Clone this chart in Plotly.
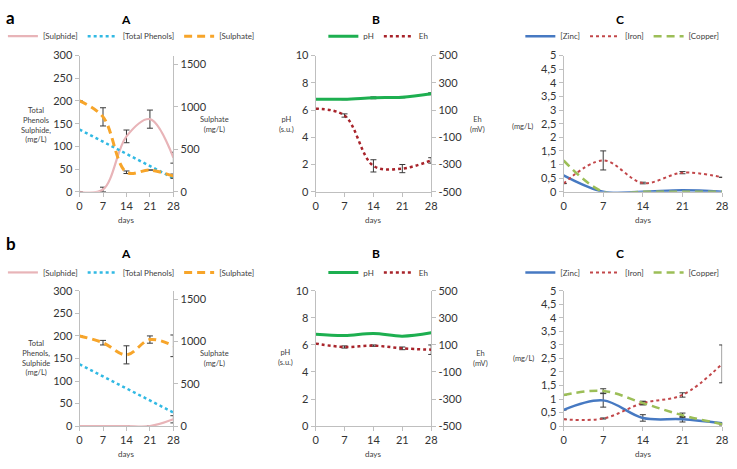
import plotly.graph_objects as go

W, H = 737, 469
days = [0, 7, 14, 21, 28]
phen_days = [0, 28]

# ---- row a ----
a_sulphide = [0, 5, 122, 160, 75]
a_sulphide_err = [0, 5, 14, 20, 12]
a_phenols = [137, 30]
a_sulphate = [1067, 880, 229, 255, 183]
a_sulphate_err = [0, 107, 15, 0, 25]
a_ph = [6.8, 6.8, 6.9, 6.95, 7.2]
a_ph_err = [0, 0.04, 0.07, 0.05, 0.07]
a_eh = [110, 60, -310, -330, -270]
a_eh_err = [0, 12, 45, 30, 20]
a_zinc = [0.6, 0.0, 0.0, 0.05, 0.0]
a_iron = [0.3, 1.15, 0.32, 0.7, 0.53]
a_iron_err = [0, 0.35, 0.03, 0.04, 0]
a_copper = [1.15, 0.0, 0.0, 0.0, 0.0]

# ---- row b ----
b_sulphide = [0, 0, 0, 0, 15]
b_sulphide_err = [0, 0, 0, 0, 8]
b_phenols = [137, 30]
b_sulphate = [1067, 987, 843, 1024, 950]
b_sulphate_err = [0, 27, 107, 43, 128]
b_ph = [6.8, 6.7, 6.85, 6.65, 6.9]
b_eh = [110, 85, 95, 75, 65]
b_eh_err = [0, 8, 5, 10, 35]
b_zinc = [0.6, 0.95, 0.3, 0.25, 0.1]
b_zinc_err = [0, 0.25, 0.12, 0.1, 0.03]
b_iron = [0.25, 0.28, 0.85, 1.15, 2.3]
b_iron_err = [0, 0.02, 0.05, 0.08, 0.7]
b_copper = [1.15, 1.3, 0.85, 0.4, 0.07]
b_copper_err = [0, 0.08, 0.07, 0.08, 0.03]

c_ticks = [0, 0.5, 1, 1.5, 2, 2.5, 3, 3.5, 4, 4.5, 5]
c_ticktext = ["0", "0,5", "1", "1,5", "2", "2,5", "3", "3,5", "4", "4,5", "5"]
eh_ticks = [-500, -300, -100, 100, 300, 500]
eh_ticktext = ["-500", "-300", "-100", "100", "300", "500"]

C_SULPHIDE = "#E8B4B8"
C_PHENOLS = "#31B9E3"
C_SULPHATE = "#F7A52A"
C_PH = "#1DAF50"
C_EH = "#A8232A"
C_ZINC = "#4679C2"
C_IRON = "#C2474A"
C_COPPER = "#9CBE57"
ERR = dict(type="data", color="#3a3a3a", thickness=1, width=3)
FONT = "Lato, 'Open Sans', sans-serif"

fig = go.Figure()


def err(arr):
    return dict(ERR, array=arr, visible=True)


def line(x, y, name, color, dash, width, xa, ya, legend, e=None):
    tr = go.Scatter(x=x, y=y, name=name, mode="lines",
                    line=dict(color=color, dash=dash, width=width, shape="spline", smoothing=1),
                    xaxis=xa, yaxis=ya, legend=legend)
    if e is not None:
        tr.error_y = err(e)
    fig.add_trace(tr)


DASH = "8px,5px"
# row a
line(days, a_sulphide, "[Sulphide]", C_SULPHIDE, "solid", 2.2, "x", "y", "legend", a_sulphide_err)
line(phen_days, a_phenols, "[Total Phenols]", C_PHENOLS, "dot", 2.5, "x", "y", "legend")
line(days, a_sulphate, "[Sulphate]", C_SULPHATE, DASH, 3, "x", "y2", "legend", a_sulphate_err)
line(days, a_ph, "pH", C_PH, "solid", 3, "x2", "y3", "legend2", a_ph_err)
line(days, a_eh, "Eh", C_EH, "dot", 2.5, "x2", "y4", "legend2", a_eh_err)
line(days, a_zinc, "[Zinc]", C_ZINC, "solid", 2.5, "x3", "y5", "legend3")
line(days, a_iron, "[Iron]", C_IRON, "dot", 2, "x3", "y5", "legend3", a_iron_err)
line(days, a_copper, "[Copper]", C_COPPER, DASH, 2.5, "x3", "y5", "legend3")
# row b
line(days, b_sulphide, "[Sulphide]", C_SULPHIDE, "solid", 2.2, "x4", "y6", "legend4", b_sulphide_err)
line(phen_days, b_phenols, "[Total Phenols]", C_PHENOLS, "dot", 2.5, "x4", "y6", "legend4")
line(days, b_sulphate, "[Sulphate]", C_SULPHATE, DASH, 3, "x4", "y7", "legend4", b_sulphate_err)
line(days, b_ph, "pH", C_PH, "solid", 3, "x5", "y8", "legend5")
line(days, b_eh, "Eh", C_EH, "dot", 2.5, "x5", "y9", "legend5", b_eh_err)
line(days, b_zinc, "[Zinc]", C_ZINC, "solid", 2.5, "x6", "y10", "legend6", b_zinc_err)
line(days, b_iron, "[Iron]", C_IRON, "dot", 2, "x6", "y10", "legend6", b_iron_err)
line(days, b_copper, "[Copper]", C_COPPER, DASH, 2.5, "x6", "y10", "legend6", b_copper_err)


def px(x):
    return x / W


def py(y):
    return 1 - y / H


AX = dict(showgrid=False, zeroline=False, showline=True, linecolor="#BFBFBF", linewidth=1,
          ticks="outside", ticklen=4, tickcolor="#BFBFBF",
          tickfont=dict(size=11, color="#333333", family=FONT), fixedrange=True)

cols = {"A": (77.5, 172.5), "B": (316.5, 433.5), "C": (567.5, 728)}
rows = {"a": (50, 190), "b": (292, 431)}

layout = dict(width=W, height=H, margin=dict(l=0, r=0, t=0, b=0),
              paper_bgcolor="white", plot_bgcolor="rgba(0,0,0,0)",
              font=dict(family=FONT, color="#404040"), showlegend=True)

panels = [("a", "A", "", "", "2"), ("a", "B", "2", "3", "4"), ("a", "C", "3", "5", None),
          ("b", "A", "4", "6", "7"), ("b", "B", "5", "8", "9"), ("b", "C", "6", "10", None)]
for row, col, xn, yn, y2n in panels:
    x0, x1 = cols[col]
    yt, yb = rows[row]
    xdom = [px(x0), px(x1)]
    ydom = [py(yb), py(yt)]
    layout["xaxis" + xn] = dict(AX, domain=xdom, range=[0, 28], tickvals=days,
                                anchor="y" + yn)
    ya = dict(AX, domain=ydom, anchor="x" + xn, side="left")
    if col == "A":
        ya.update(range=[0, 300], dtick=50, tick0=0)
    elif col == "B":
        ya.update(range=[0, 10], dtick=2, tick0=0)
    else:
        ya.update(range=[0, 5], tickvals=c_ticks, ticktext=c_ticktext)
    layout["yaxis" + yn] = ya
    if y2n:
        yb2 = dict(AX, overlaying="y" + yn, anchor="x" + xn, side="right")
        if col == "A":
            yb2.update(range=[0, 1600], tickvals=[0, 500, 1000, 1500])
        else:
            yb2.update(range=[-500, 500], tickvals=eh_ticks, ticktext=eh_ticktext)
        layout["yaxis" + y2n] = yb2

LEG = dict(orientation="h", xanchor="center", yanchor="middle", itemwidth=30,
           font=dict(size=8, color="#404040", family=FONT), bgcolor="rgba(0,0,0,0)",
           tracegroupgap=0, itemclick=False, itemdoubleclick=False)
layout["legend"] = dict(LEG, x=px(130), y=py(30))
layout["legend2"] = dict(LEG, x=px(380), y=py(30))
layout["legend3"] = dict(LEG, x=px(627), y=py(30))
layout["legend4"] = dict(LEG, x=px(130), y=py(273))
layout["legend5"] = dict(LEG, x=px(380), y=py(273))
layout["legend6"] = dict(LEG, x=px(627), y=py(273))

fig.update_layout(**layout)


def ann(x, y, text, size=8, color="#404040"):
    fig.add_annotation(x=px(x), y=py(y), xref="paper", yref="paper", text=text,
                       showarrow=False, xanchor="center", yanchor="middle",
                       font=dict(size=size, color=color, family=FONT))


ann(8, 11, "<b>a</b>", 17, color="black")
ann(8, 243, "<b>b</b>", 17, color="black")
for yy in (13, 254):
    ann(125, yy, "<b>A</b>", 12, color="black")
    ann(378, yy, "<b>B</b>", 12, color="black")
    ann(625, yy, "<b>C</b>", 12, color="black")
for yy in (219, 460):
    ann(125, yy, "days", 8)
    ann(375, yy, "days", 8)
    ann(648, yy, "days", 8)

ann(33, 121, "Total<br>Phenols<br>Sulphide,<br>(mg/L)", 7.5)
ann(214, 121, "Sulphate<br>(mg/L)", 7.5)
ann(287, 121, "pH<br>(s.u.)", 7.5)
ann(480, 121, "Eh<br>(mV)", 7.5)
ann(526, 123, "(mg/L)", 7.5)

ann(33, 361, "Total<br>Phenols,<br>Sulphide<br>(mg/L)", 7.5)
ann(214, 362, "Sulphate<br>(mg/L)", 7.5)
ann(286, 360, "pH<br>(s.u.)", 7.5)
ann(483, 362, "Eh<br>(mV)", 7.5)
ann(527, 362, "(mg/L)", 7.5)

fig.write_html("out.html")
